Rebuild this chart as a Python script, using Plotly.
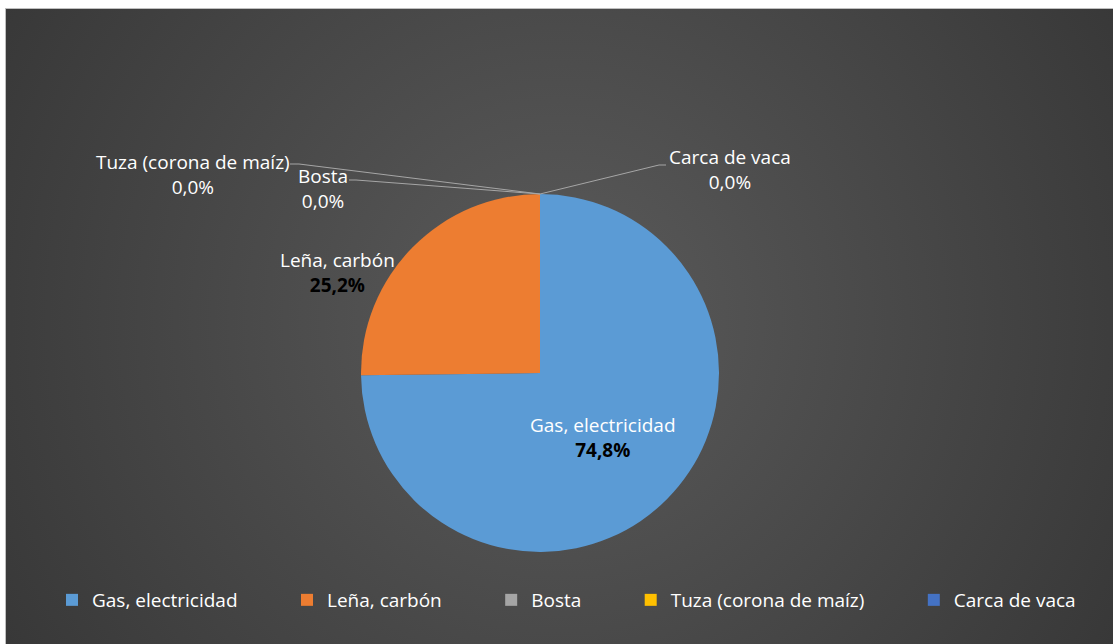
import base64
import plotly.graph_objects as go

# ---- data ----
categories = ["Gas, electricidad", "Leña, carbón", "Bosta", "Tuza (corona de maíz)", "Carca de vaca"]
values = [74.8, 25.2, 0.0, 0.0, 0.0]
colors = ["#5B9BD5", "#ED7D31", "#A5A5A5", "#FFC000", "#4472C4"]

W, H = 1113, 644
FONT = "Open Sans"
FS = 19

def px(x):
    return x / W

def py(y):
    return 1 - y / H

def pct(v):
    return f"{v:.1f}".replace(".", ",") + "%"

# radial-gradient background as inline SVG
svg = f"""<svg xmlns='http://www.w3.org/2000/svg' width='{W}' height='{H}' viewBox='0 0 {W} {H}'>
<defs><radialGradient id='g' gradientUnits='userSpaceOnUse' cx='560' cy='320' r='640'>
<stop offset='0' stop-color='#5b5b5b'/><stop offset='1' stop-color='#383838'/></radialGradient></defs>
<rect x='0' y='0' width='{W}' height='{H}' fill='#ffffff'/>
<rect x='5.5' y='8.5' width='{W}' height='{H}' fill='url(#g)' stroke='#bfbfbf' stroke-width='1'/>
</svg>"""
bg_uri = "data:image/svg+xml;base64," + base64.b64encode(svg.encode()).decode()

# legend labels padded so entries are spaced like the original (not the last one)
legend_labels = [c + ("\u00a0" * 9 if i < len(categories) - 1 else "") for i, c in enumerate(categories)]

cx, cy, r = 540, 373, 179

fig = go.Figure(go.Pie(
    labels=legend_labels,
    values=values,
    marker=dict(colors=colors, line=dict(width=0)),
    sort=False,
    direction="clockwise",
    rotation=0,
    textinfo="none",
    hoverinfo="label+percent",
    domain=dict(x=[px(cx - r), px(cx + r)], y=[py(cy + r), py(cy - r)]),
    showlegend=True,
))

# data labels
label_pos = {
    0: (603, 437),
    1: (337, 272),
    2: (323, 188),
    3: (193, 174),
    4: (730, 169),
}
anns = []
for i, cat in enumerate(categories):
    x, y = label_pos[i]
    if values[i] > 0:
        txt = f"{cat}<br><span style='color:#000000'><b>{pct(values[i])}</b></span>"
    else:
        txt = f"{cat}<br>{pct(values[i])}"
    anns.append(dict(
        x=px(x), y=py(y), xref="paper", yref="paper", text=txt, showarrow=False,
        xanchor="center", yanchor="middle", align="center",
        font=dict(family=FONT, size=FS, color="#ffffff"),
    ))

# leader lines for zero slices (from the top of the pie)
leaders = [
    [(540, 194), (299, 164), (290, 164)],
    [(540, 194), (356, 180), (349, 180)],
    [(540, 194), (659, 165), (666, 165)],
]
shapes = []
for pts in leaders:
    path = "M " + " L ".join(f"{px(x)},{py(y)}" for x, y in pts)
    shapes.append(dict(type="path", xref="paper", yref="paper", path=path,
                       line=dict(color="#a6a6a6", width=1)))

fig.update_layout(
    width=W, height=H,
    margin=dict(l=0, r=0, t=0, b=0),
    paper_bgcolor="#ffffff",
    plot_bgcolor="rgba(0,0,0,0)",
    images=[dict(source=bg_uri, xref="paper", yref="paper", x=0, y=1, sizex=1, sizey=1,
                 xanchor="left", yanchor="top", sizing="stretch", layer="below")],
    annotations=anns,
    shapes=shapes,
    legend=dict(orientation="h", x=px(52), y=py(600), xanchor="left", yanchor="middle",
                font=dict(family=FONT, size=FS, color="#ffffff"),
                bgcolor="rgba(0,0,0,0)", itemclick=False, traceorder="normal"),
    font=dict(family=FONT, color="#ffffff"),
)

fig.write_html(
    "out.html",
    config={"displayModeBar": False},
    post_script="document.body.style.margin='0';document.body.style.overflow='hidden';",
)
